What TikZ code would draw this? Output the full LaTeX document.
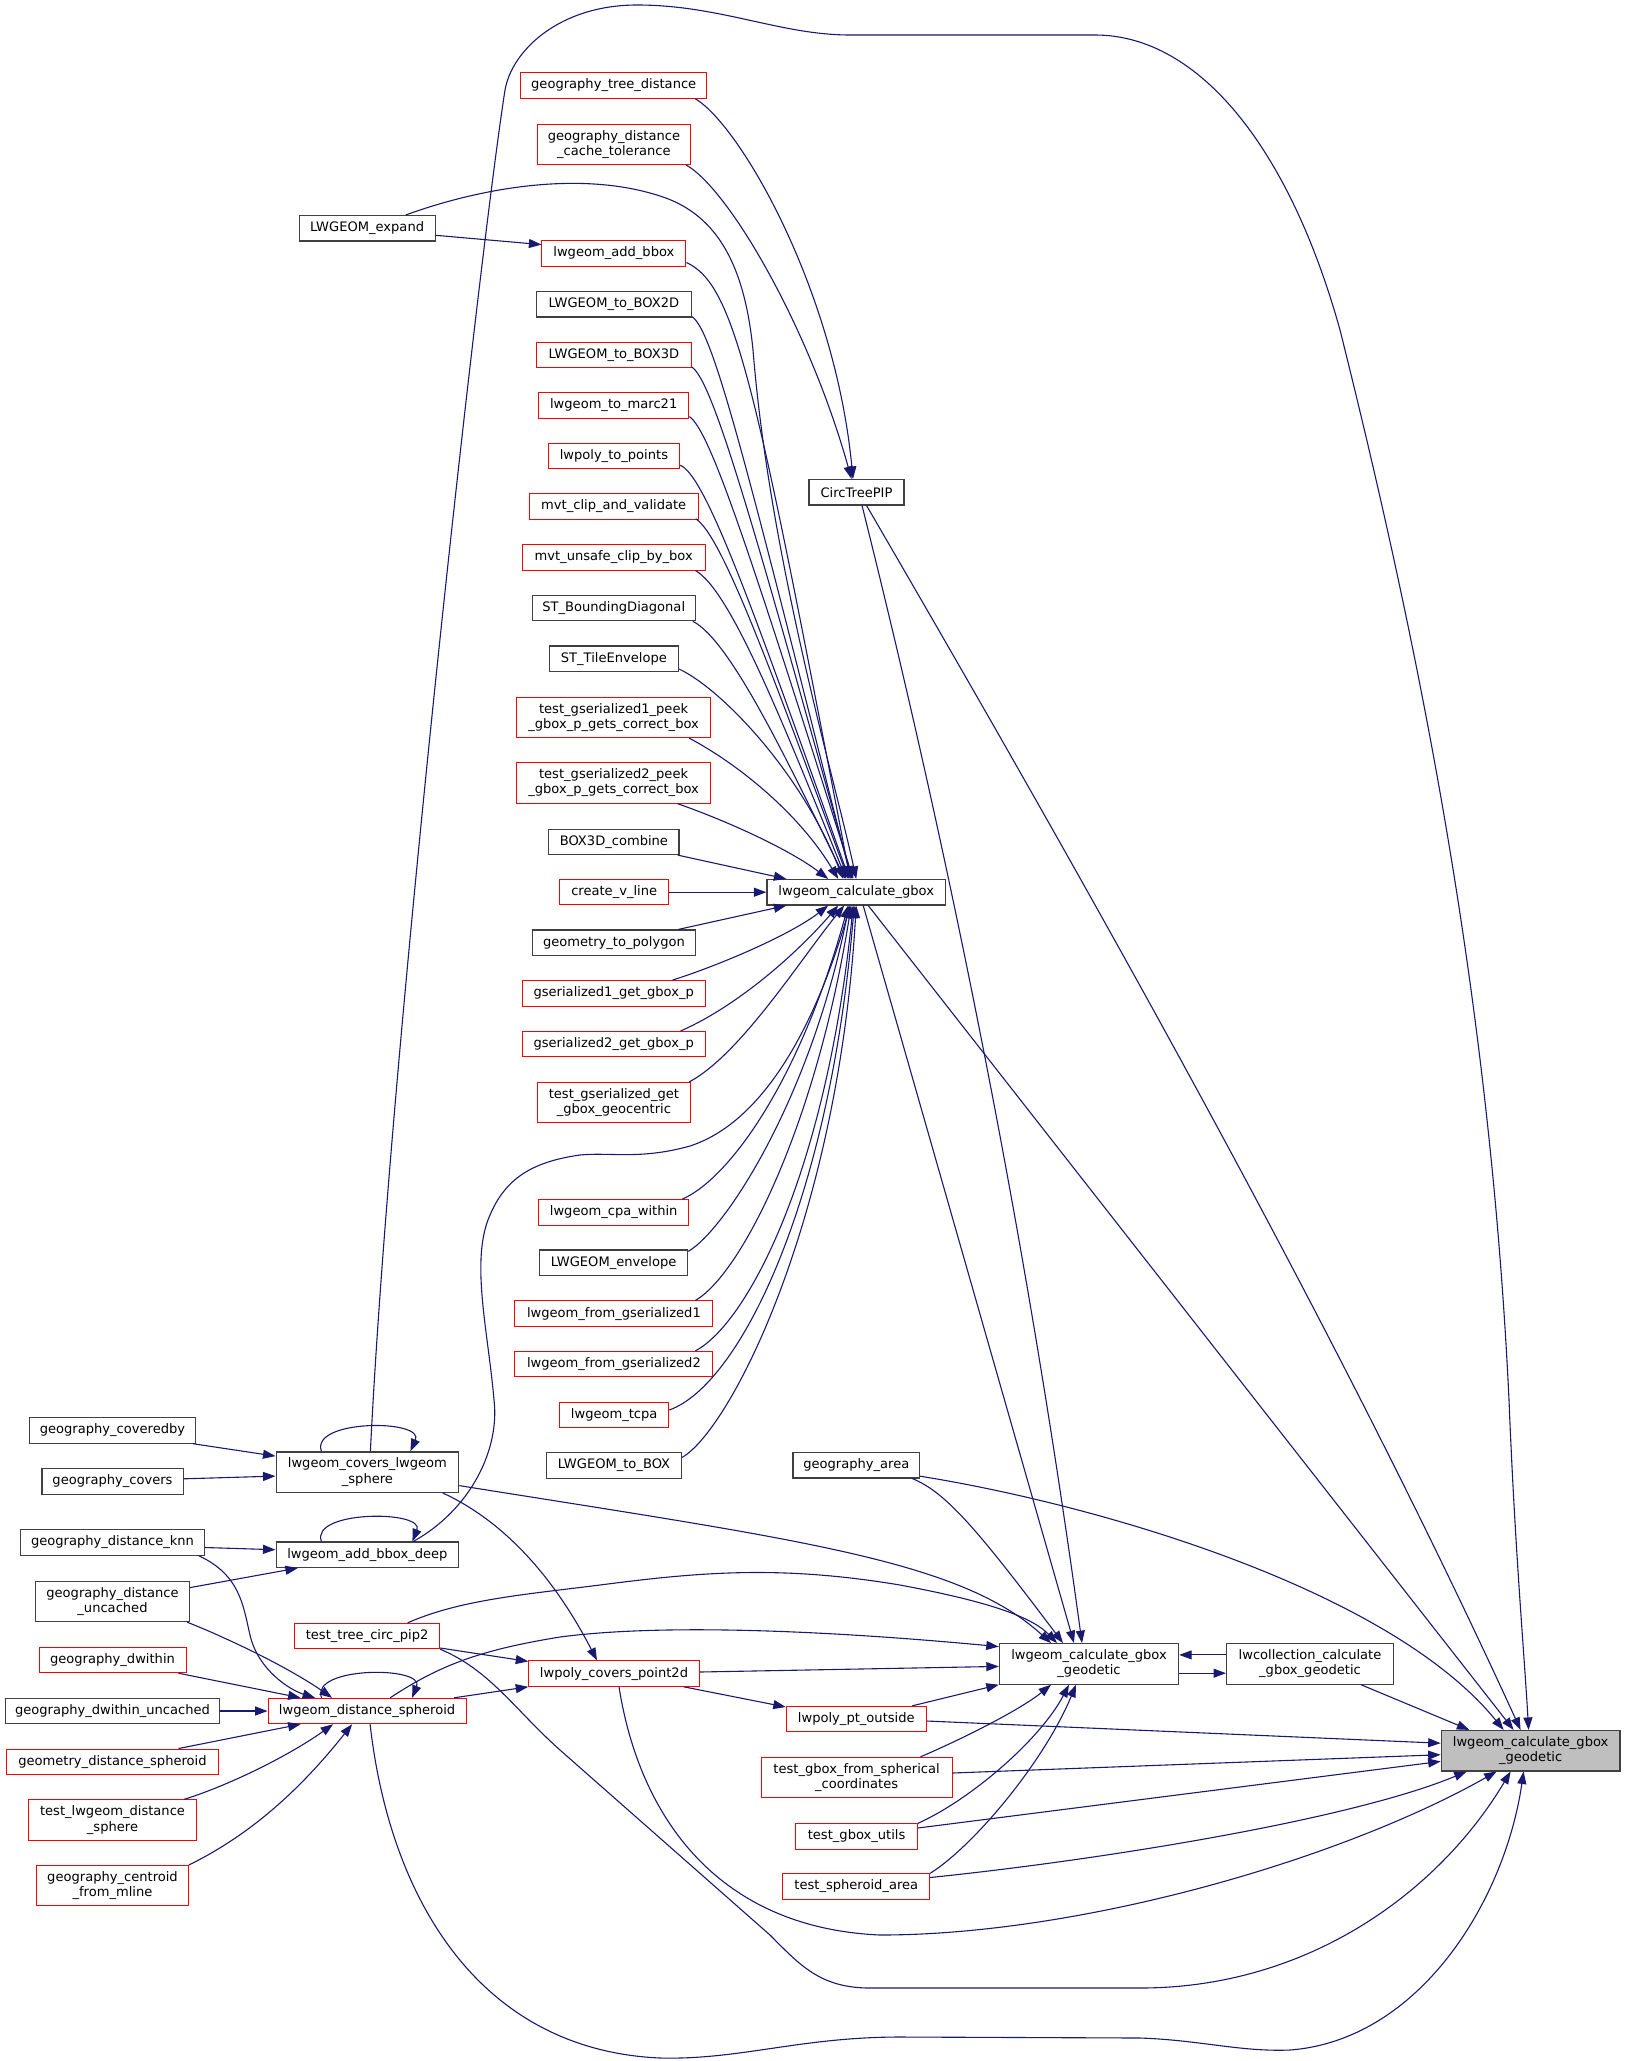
\documentclass[tikz,border=0pt]{standalone}
\usepackage{fontspec}
\setmainfont{DejaVu Sans}
\usetikzlibrary{arrows.meta,calc}
\definecolor{edgeblue}{RGB}{25,25,112}
\newcommand\dxfont{\fontsize{13.07}{15.2}\selectfont}
\tikzset{
  nbox/.style={draw, rectangle, inner xsep=2pt, inner ysep=0pt, minimum height=25.4pt, align=center, font=\dxfont, text=black, fill=white},
  rnode/.style={nbox, draw=red, line width=1pt},
  bnode/.style={nbox, draw=black!75, line width=1.2pt},
  gnode/.style={bnode, fill=black!25},
  talln/.style={minimum height=40.4pt},
  conn/.style={draw=edgeblue, line width=1.1pt, -{Triangle[length=12.5pt,width=9pt]}},
}
\begin{document}
\begin{tikzpicture}[x=1pt,y=-1pt]
\useasboundingbox (0,0) rectangle (1625,2061);
% ---- column A
\node[rnode, minimum width=186] (gtd) at (613.7,85.5) {geography\_tree\_distance};
\node[rnode, talln, minimum width=153.3] (gdct) at (613.9,144.2) {geography\_distance\\\_cache\_tolerance};
\node[bnode, minimum width=136] (expand) at (367.1,228.3) {LWGEOM\_expand};
\node[rnode, minimum width=144] (addbbox) at (613.9,253.3) {lwgeom\_add\_bbox};
\node[bnode, minimum width=154.5] (box2d) at (613.9,304.2) {LWGEOM\_to\_BOX2D};
\node[rnode, minimum width=154.5] (box3d) at (613.9,354.7) {LWGEOM\_to\_BOX3D};
\node[rnode, minimum width=150.4] (marc) at (613.7,405.4) {lwgeom\_to\_marc21};
\node[rnode, minimum width=131.5] (topts) at (613.9,456) {lwpoly\_to\_points};
\node[rnode, minimum width=168.8] (mvtcv) at (613.7,506.5) {mvt\_clip\_and\_validate};
\node[rnode, minimum width=182.6] (mvtuc) at (613.7,557.4) {mvt\_unsafe\_clip\_by\_box};
\node[bnode, minimum width=163] (stbd) at (613.7,608) {ST\_BoundingDiagonal};
\node[bnode, minimum width=129] (stte) at (613.9,658.7) {ST\_TileEnvelope};
\node[rnode, talln, minimum width=194] (tg1) at (613.6,717.4) {test\_gserialized1\_peek\\\_gbox\_p\_gets\_correct\_box};
\node[rnode, talln, minimum width=194] (tg2) at (613.6,782.8) {test\_gserialized2\_peek\\\_gbox\_p\_gets\_correct\_box};
\node[bnode, minimum width=130.3] (b3c) at (613.9,841.8) {BOX3D\_combine};
\node[rnode, minimum width=109] (cvl) at (614.2,892.2) {create\_v\_line};
\node[bnode, minimum width=163.6] (gtp) at (614,942.7) {geometry\_to\_polygon};
\node[rnode, minimum width=182.6] (g1g) at (613.7,993.3) {gserialized1\_get\_gbox\_p};
\node[rnode, minimum width=182.6] (g2g) at (613.7,1044.2) {gserialized2\_get\_gbox\_p};
\node[rnode, talln, minimum width=153.3] (tgg) at (613.9,1102.7) {test\_gserialized\_get\\\_gbox\_geocentric};
\node[rnode, minimum width=150.4] (cpa) at (613.7,1212.3) {lwgeom\_cpa\_within};
\node[bnode, minimum width=148] (env) at (613.6,1262.7) {LWGEOM\_envelope};
\node[rnode, minimum width=198] (fg1) at (613.9,1313.6) {lwgeom\_from\_gserialized1};
\node[rnode, minimum width=198] (fg2) at (613.9,1364) {lwgeom\_from\_gserialized2};
\node[rnode, minimum width=109] (tcpa) at (614.2,1415) {lwgeom\_tcpa};
\node[bnode, minimum width=135] (tobox) at (614,1465.4) {LWGEOM\_to\_BOX};
% ---- column B
\node[bnode, minimum width=178.5] (lcg) at (856.2,892.2) {lwgeom\_calculate\_gbox};
\node[bnode, minimum width=95] (ctp) at (856.5,492.2) {CircTreePIP};
\node[bnode, minimum width=126.6] (garea) at (856.3,1465.2) {geography\_area};
\node[rnode, minimum width=140] (ppo) at (856.3,1719) {lwpoly\_pt\_outside};
\node[rnode, talln, minimum width=190.8] (tgfs) at (856.6,1777.5) {test\_gbox\_from\_spherical\\\_coordinates};
\node[rnode, minimum width=121.6] (tgu) at (856.6,1836.5) {test\_gbox\_utils};
\node[rnode, minimum width=146.8] (tsa) at (856.3,1886.5) {test\_spheroid\_area};
% ---- column C
\node[bnode, talln, minimum width=179.2] (lcgg) at (1089,1663.9) {lwgeom\_calculate\_gbox\\\_geodetic};
\node[bnode, talln, minimum width=166.8] (lcoll) at (1310,1663.9) {lwcollection\_calculate\\\_gbox\_geodetic};
\node[gnode, talln, minimum width=178.7] (root) at (1530.6,1750.7) {lwgeom\_calculate\_gbox\\\_geodetic};
% ---- far left
\node[bnode, minimum width=166.5] (gcb) at (112.5,1430.4) {geography\_coveredby};
\node[bnode, minimum width=141.2] (gcv) at (112.5,1481.4) {geography\_covers};
\node[bnode, minimum width=183.7] (gknn) at (112.5,1542.5) {geography\_distance\_knn};
\node[bnode, talln, minimum width=153.8] (gdu) at (112.5,1601.3) {geography\_distance\\\_uncached};
\node[rnode, minimum width=147] (gdw) at (112.5,1660) {geography\_dwithin};
\node[bnode, minimum width=214.7] (gdwu) at (112.5,1711) {geography\_dwithin\_uncached};
\node[rnode, minimum width=211.2] (gds) at (112.5,1761.7) {geometry\_distance\_spheroid};
\node[rnode, talln, minimum width=167.6] (tlds) at (112.5,1820) {test\_lwgeom\_distance\\\_sphere};
\node[rnode, talln, minimum width=151.6] (gcfm) at (112.5,1885.7) {geography\_centroid\\\_from\_mline};
% ---- column 1
\node[bnode, talln, minimum width=182.6] (clws) at (367.4,1472.1) {lwgeom\_covers\_lwgeom\\\_sphere};
\node[bnode, minimum width=182.6] (abd) at (367.4,1554.7) {lwgeom\_add\_bbox\_deep};
\node[rnode, minimum width=145.2] (tcp2) at (367.1,1636) {test\_tree\_circ\_pip2};
\node[rnode, minimum width=198] (lds) at (367.1,1711) {lwgeom\_distance\_spheroid};
\node[rnode, minimum width=170.5] (pcp) at (614,1673.6) {lwpoly\_covers\_point2d};

% ---- edges
\path[conn] ($(gtd.south east)+(-12,0)$) .. controls (740,125) and (835,290) .. ($(ctp.north)+(-3.5,0)$);
\path[conn] ($(gdct.south east)+(-5,0)$) .. controls (730,190) and (810,330) .. ($(ctp.north)+(-5,0)$);
\path[conn] ($(expand.east)+(0,7)$) -- ($(addbbox.west)+(0,-8.7)$);
\path[conn] ($(expand.north east)+(-30,0)$) .. controls (480,188) and (580,170) .. (660,196) .. controls (720,215) and (745,270) .. (753,350) .. controls (770,560) and (835,780) .. (lcg.north);
\path[conn] ($(addbbox.south east)+(0,-4)$) .. controls (735,285) and (755,380) .. ($(lcg.north)+(-6,0)$);
\path[conn] ($(box2d.south east)+(0,-1)$) .. controls (714,330) and (750,480) .. ($(lcg.north)+(-5,0)$);
\path[conn] ($(box3d.south east)+(0,-1)$) .. controls (713,380) and (755,530) .. ($(lcg.north)+(-4,0)$);
\path[conn] ($(marc.south east)+(0,-2)$) .. controls (711,431) and (754,566) .. ($(lcg.north)+(-3,0)$);
\path[conn] ($(topts.south east)+(0,-4)$) .. controls (706,475) and (756,617) .. ($(lcg.north)+(-7,0)$);
\path[conn] ($(mvtcv.south east)+(-3,-1)$) .. controls (722,535) and (772,673) .. ($(lcg.north)+(-8,0)$);
\path[conn] ($(mvtuc.south east)+(-10,0)$) .. controls (730,590) and (782,720) .. ($(lcg.north)+(-10,0)$);
\path[conn] ($(stbd.south east)+(-3,0)$) .. controls (730,640) and (787,760) .. ($(lcg.north)+(-11,0)$);
\path[conn] ($(stte.south east)+(0,-3)$) .. controls (720,688) and (800,770) .. ($(lcg.north)+(-13,0)$);
\path[conn] ($(tg1.south east)+(-22,0)$) .. controls (740,765) and (800,815) .. ($(lcg.north)+(-18,0)$);
\path[conn] ($(tg2.south east)+(-34,0)$) .. controls (730,822) and (790,850) .. ($(lcg.north)+(-28,0)$);
\path[conn] ($(b3c.south east)+(-2,0)$) -- ($(lcg.north west)+(20,0)$);
\path[conn] (cvl.east) -- (lcg.west);
\path[conn] ($(gtp.north east)+(-18,0)$) -- ($(lcg.south west)+(20,0)$);
\path[conn] ($(g1g.north east)+(-33,0)$) .. controls (720,965) and (790,935) .. ($(lcg.south)+(-28,0)$);
\path[conn] ($(g2g.north east)+(-25,0)$) .. controls (740,1005) and (800,950) .. ($(lcg.south)+(-18,0)$);
\path[conn] ($(tgg.north east)+(-2,0)$) .. controls (740,1055) and (800,960) .. ($(lcg.south)+(-12,0)$);
\path[conn] ($(abd.north east)+(-46,0)$) .. controls (470,1510) and (500,1450) .. (494,1400) .. controls (488,1330) and (470,1260) .. (490,1215) .. controls (505,1180) and (530,1162) .. (580,1155) .. controls (610,1152) and (640,1160) .. (690,1146) .. controls (770,1120) and (820,1010) .. ($(lcg.south)+(-6,0)$);
\path[conn] ($(cpa.north east)+(-7,0)$) .. controls (730,1178) and (800,1080) .. ($(lcg.south)+(-8,0)$);
\path[conn] ($(env.north east)+(0,2)$) .. controls (725,1230) and (810,1100) .. ($(lcg.south)+(-7,0)$);
\path[conn] ($(fg1.north east)+(-18,0)$) .. controls (740,1275) and (815,1130) .. ($(lcg.south)+(-5,0)$);
\path[conn] ($(fg2.north east)+(-18,0)$) .. controls (745,1325) and (825,1180) .. ($(lcg.south)+(-3,0)$);
\path[conn] ($(tcpa.east)+(0,-5)$) .. controls (740,1385) and (830,1200) .. ($(lcg.south)+(-2,0)$);
\path[conn] ($(tobox.east)+(0,-8)$) .. controls (730,1430) and (838,1220) .. (lcg.south);
\path[conn] ($(ctp.south)+(5.5,0)$) .. controls (957,885) and (1030,1263) .. ($(lcgg.north)+(-7,0)$);
\path[conn] ($(ctp.south)+(10,0)$) .. controls (1099,905) and (1338,1331) .. ($(root.north)+(-10,0)$);
\path[conn] ($(lcg.south)+(7,0)$) -- ($(lcgg.north)+(-15,0)$);
\path[conn] ($(lcg.south)+(12,0)$) -- ($(root.north)+(-17,0)$);
\path[conn] ($(clws.north)+(3,0)$) .. controls (390,1050) and (480,250) .. (505,90) .. controls (512,50) and (560,5) .. (637,5) .. controls (720,5) and (780,35) .. (850,35) -- (1095,35) .. controls (1200,35) and (1290,150) .. (1340,330) .. controls (1420,650) and (1490,1000) .. (1509,1400) .. controls (1515,1550) and (1524,1650) .. ($(root.north)+(-2,0)$);
\path[conn] ($(garea.east)+(0,11)$) .. controls (1100,1505) and (1390,1590) .. ($(root.north)+(-27,0)$);
\path[conn] ($(garea.south east)+(-8,0)$) .. controls (945,1492) and (975,1526) .. ($(lcgg.north)+(-26,0)$);
\path[conn] ($(lcoll.west)+(0,-9)$) -- ($(lcgg.east)+(0,-9)$);
\path[conn] ($(lcgg.east)+(0,9.3)$) -- ($(lcoll.west)+(0,9.3)$);
\path[conn] ($(lcoll.south)+(51,0)$) -- ($(root.north west)+(28.7,0)$);
\path[conn] ($(ppo.east)+(0,2)$) -- ($(root.west)+(0,-7.5)$);
\path[conn] ($(tgfs.east)+(0,-4.5)$) -- ($(root.west)+(0,4)$);
\path[conn] ($(tgu.east)+(0,-8.5)$) -- ($(root.west)+(0,10.7)$);
\path[conn] ($(tsa.east)+(0,-9)$) .. controls (1100,1860) and (1350,1820) .. ($(root.south west)+(26,0)$);
\path[conn] ($(pcp.south)+(5,0)$) .. controls (640,1820) and (720,1928) .. (880,1935) .. controls (1080,1935) and (1340,1860) .. ($(root.south)+(-34,0)$);
\path[conn] (tcp2.south east) .. controls (490,1670) and (515,1710) .. (560,1750) -- (770,1935) .. controls (800,1965) and (820,1988) .. (870,1988) -- (1140,1988) .. controls (1310,1988) and (1440,1890) .. ($(root.south)+(-20,0)$);
\path[conn] ($(lds.south)+(3,0)$) .. controls (390,1900) and (480,2050) .. (660,2058) .. controls (740,2060) and (800,2037) .. (900,2037) -- (1140,2038) .. controls (1200,2040) and (1240,2052) .. (1290,2050) .. controls (1420,2040) and (1505,1900) .. ($(root.south)+(-7,0)$);
\path[conn] ($(clws.east)+(0,13.5)$) .. controls (800,1540) and (960,1560) .. ($(lcgg.north)+(-38,0)$);
\path[conn] ($(tcp2.north)+(40.5,0)$) .. controls (460,1600) and (520,1595) .. (600,1585) .. controls (700,1572) and (780,1565) .. (900,1585) .. controls (980,1600) and (1030,1615) .. ($(lcgg.north)+(-32,0)$);
\path[conn] ($(lds.north)+(23,0)$) .. controls (440,1665) and (480,1650) .. (560,1637) .. controls (650,1625) and (800,1628) .. ($(lcgg.west)+(0,-17.3)$);
\path[conn] ($(pcp.east)+(0,-1.6)$) -- ($(lcgg.west)+(0,2.5)$);
\path[conn] ($(ppo.north east)+(-14.5,0)$) -- (lcgg.south west);
\path[conn] ($(tgfs.north east)+(-32,0)$) .. controls (960,1740) and (1020,1710) .. ($(lcgg.south)+(-38,0)$);
\path[conn] (tgu.north east) .. controls (970,1800) and (1040,1740) .. ($(lcgg.south)+(-20,0)$);
\path[conn] (tsa.north east) .. controls (975,1845) and (1045,1760) .. ($(lcgg.south)+(-13,0)$);
\path[conn] ($(pcp.south east)+(-16,0)$) -- ($(ppo.west)+(0,-12)$);
\path[conn] ($(gcb.south east)+(-3.5,0)$) -- ($(clws.west)+(0,-16)$);
\path[conn] ($(gcv.east)+(0,-2.6)$) -- ($(clws.west)+(0,4)$);
\path[conn] ($(clws.north)+(-46,0)$) .. controls (310,1419) and (425,1419) .. ($(clws.north)+(43,0)$);
\path[conn] ($(clws.south east)+(-16.7,0)$) .. controls (480,1510) and (540,1550) .. ($(pcp.north)+(-17,0)$);
\path[conn] ($(gknn.east)+(0,5)$) -- ($(abd.west)+(0,-5)$);
\path[conn] ($(gknn.south east)+(-6,0)$) .. controls (240,1575) and (243,1605) .. (250,1635) .. controls (258,1670) and (290,1690) .. ($(lds.north)+(-52,0)$);
\path[conn] ($(gdu.east)+(0,-13.7)$) -- ($(abd.south west)+(22.4,0)$);
\path[conn] ($(gdu.south east)+(-3,0)$) .. controls (220,1635) and (285,1665) .. ($(lds.north)+(-35,0)$);
\path[conn] ($(gdw.south east)+(-8,0)$) -- ($(lds.north west)+(33,0)$);
\path[conn] (gdwu.east) -- (lds.west);
\path[conn] ($(gds.north east)+(-40,0)$) -- ($(lds.south west)+(33,0)$);
\path[conn] ($(tlds.north east)+(-12.6,0)$) .. controls (230,1785) and (290,1755) .. ($(lds.south)+(-34,0)$);
\path[conn] (gcfm.north east) .. controls (250,1835) and (300,1790) .. ($(lds.south)+(-15,0)$);
\path[conn] ($(lds.north)+(-45.6,0)$) .. controls (310,1666) and (425,1666) .. ($(lds.north)+(45,0)$);
\path[conn] ($(abd.north)+(-46,0)$) .. controls (310,1510) and (425,1510) .. ($(abd.north)+(45,0)$);
\path[conn] ($(tcp2.east)+(0,12)$) -- ($(pcp.west)+(0,-12.2)$);
\path[conn] ($(lds.north east)+(-12.6,0)$) -- (pcp.south west);
\end{tikzpicture}
\end{document}
